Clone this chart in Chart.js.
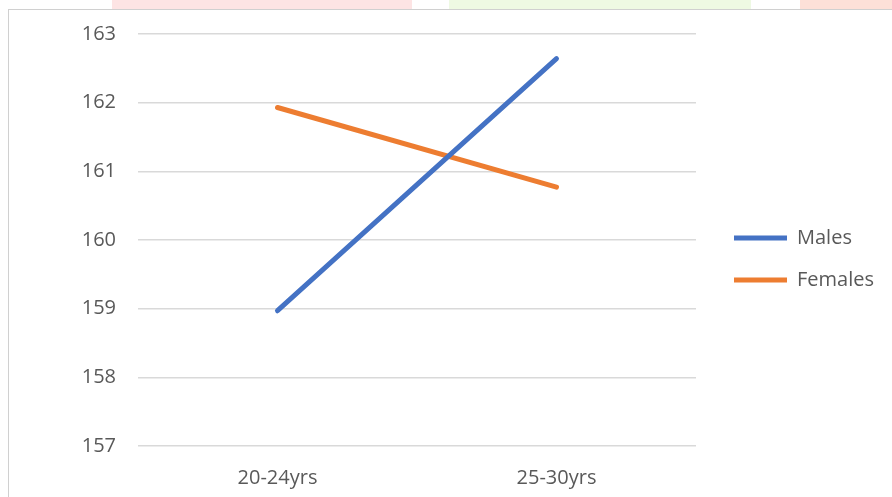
<!DOCTYPE html>
<html>
<head>
<meta charset="utf-8">
<script src="https://cdn.jsdelivr.net/npm/chart.js@4/dist/chart.umd.min.js"></script>
<style>
  html, body { margin: 0; padding: 0; background: #fff; }
  #wrap { position: relative; width: 892px; height: 497px; overflow: hidden; }
  .strip { position: absolute; top: 0; height: 9px; }
  #card { position: absolute; left: 8px; top: 9px; width: 900px; height: 500px;
          border-left: 1px solid #d0d0d0; border-top: 1px solid #d0d0d0; }
  canvas { position: absolute; left: 0; top: 0; }
</style>
</head>
<body>
<div id="wrap">
  <div class="strip" style="left:112px;width:300px;background:#fde4e4"></div>
  <div class="strip" style="left:449px;width:302px;background:#eef9e3"></div>
  <div class="strip" style="left:800px;width:92px;background:#fde0d8"></div>
  <div id="card"></div>
  <canvas id="chart" width="892" height="497"></canvas>
</div>
<script>
// height by age group
const ageGroups = ['20-24yrs', '25-30yrs'];
const males = [158.97, 162.64];
const females = [161.93, 160.77];
const yTicks = [157, 158, 159, 160, 161, 162, 163];

const textColor = '#595959';
const gridColor = '#d9d9d9';
const font = { family: "'Open Sans', 'Noto Sans', sans-serif", size: 20 };

// fixed legend column width, items nudged a bit up
const legendBox = {
    id: 'legendBox',
    afterInit(chart) {
        const lg = chart.legend;
        const fit = lg.fit.bind(lg);
        lg.fit = function () { fit(); this.width = 180; };
    },
    afterLayout(chart) {
        chart.legend.bottom -= 12;
    }
};

const ctx = document.getElementById('chart').getContext('2d');
new Chart(ctx, {
    type: 'line',
    data: {
        labels: ageGroups,
        datasets: [
            { label: 'Males', data: males, borderColor: '#4472c4', backgroundColor: '#4472c4',
              borderWidth: 5, borderCapStyle: 'round', pointRadius: 0, tension: 0 },
            { label: 'Females', data: females, borderColor: '#ed7d31', backgroundColor: '#ed7d31',
              borderWidth: 5, borderCapStyle: 'round', pointRadius: 0, tension: 0 }
        ]
    },
    options: {
        responsive: false,
        animation: false,
        layout: { padding: { top: 33, left: 0, right: 0, bottom: 0 } },
        plugins: {
            legend: {
                position: 'right',
                labels: {
                    usePointStyle: true,
                    pointStyle: 'line',
                    pointStyleWidth: 53,
                    color: textColor,
                    font: font,
                    padding: 22
                }
            },
            tooltip: { enabled: false }
        },
        scales: {
            x: {
                offset: true,
                grid: { display: false },
                border: { display: false },
                ticks: { color: textColor, font: font, padding: 12 },
                afterFit(s) { s.height = 51; }
            },
            y: {
                min: yTicks[0],
                max: yTicks[yTicks.length - 1],
                grid: { color: gridColor, lineWidth: 1.5, drawTicks: false },
                border: { display: false },
                ticks: { color: textColor, font: font, stepSize: 1, padding: 22 },
                afterFit(s) { s.width = 138; }
            },
            // spacer between plot and legend
            gap: {
                position: 'right',
                display: true,
                grid: { display: false },
                border: { display: false },
                ticks: { display: false },
                afterFit(s) { s.width = 16; }
            }
        }
    },
    plugins: [legendBox]
});
</script>
</body>
</html>
